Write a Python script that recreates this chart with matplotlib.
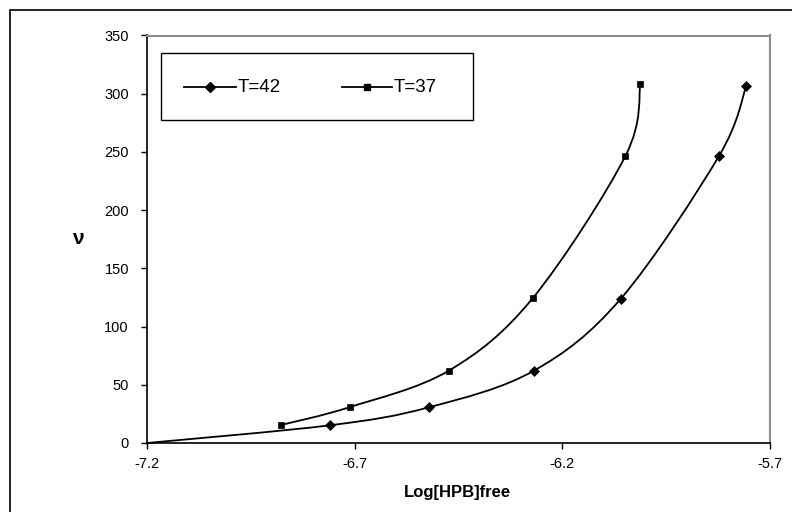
import numpy as np
import matplotlib as mpl
mpl.use('Agg')
import matplotlib.pyplot as plt
from matplotlib.path import Path
from matplotlib.patches import PathPatch, Rectangle
from matplotlib.lines import Line2D

plt.rcParams['font.family'] = ['Liberation Sans', 'DejaVu Sans']

# data
x_42 = [-7.2, -6.760, -6.521, -6.269, -6.059, -5.823, -5.757]
y_42 = [0, 15.2, 30.7, 62.0, 124.0, 246.4, 306.7]
x_37 = [-6.878, -6.712, -6.473, -6.271, -6.048, -6.012]
y_37 = [15.4, 30.8, 62.2, 124.5, 246.6, 308.0]
labels = ['T=42', 'T=37']
xticks = [-7.2, -6.7, -6.2, -5.7]
yticks = [0, 50, 100, 150, 200, 250, 300, 350]


def smooth_path(xs, ys):
    # Excel-like smoothed line: cubic bezier through every point
    p = np.column_stack([xs, ys]).astype(float)
    n = len(p)
    verts = [p[0]]
    codes = [Path.MOVETO]
    for i in range(n - 1):
        p0 = p[i - 1] if i > 0 else p[i]
        p3 = p[i + 2] if i + 2 < n else p[i + 1]
        c1 = p[i] + (p[i + 1] - p0) / 6
        c2 = p[i + 1] - (p3 - p[i]) / 6
        verts += [c1, c2, p[i + 1]]
        codes += [Path.CURVE4] * 3
    return Path(verts, codes)


W, H = 792, 512
fig = plt.figure(figsize=(W / 100, H / 100), dpi=100)
ax = fig.add_axes([147 / W, 1 - 443 / H, (770 - 147) / W, (443 - 35.5) / H])

def fx(px):
    return px / W

def fy(py):
    return 1 - py / H

# outer chart border (right and bottom edges fall outside the picture)
fig.patches.append(Rectangle((fx(10), -0.05), 1.1, fy(10) + 0.05,
                             transform=fig.transFigure, fill=False,
                             edgecolor='black', linewidth=1.2))

for xs, ys in [(x_42, y_42), (x_37, y_37)]:
    ax.add_patch(PathPatch(smooth_path(xs, ys), fill=False, edgecolor='black',
                           linewidth=1.3, clip_on=False))

ax.plot(x_42[1:], y_42[1:], linestyle='none', marker='D', markersize=5,
        color='black', markeredgewidth=0.5)
ax.plot(x_37, y_37, linestyle='none', marker='s', markersize=5,
        color='black', markeredgewidth=0.5)

ax.set_xlim(-7.2, -5.7)
ax.set_ylim(0, 350)
ax.set_xticks(xticks)
ax.set_xticklabels(['%.1f' % v for v in xticks])
ax.set_yticks(yticks)
ax.tick_params(direction='out', length=4, width=1, labelsize=10.5)
ax.tick_params(axis='y', pad=9)
ax.tick_params(axis='x', pad=6)

for s in ['top', 'right']:
    ax.spines[s].set_color('#8c8c8c')
    ax.spines[s].set_linewidth(1.5)
for s in ['left', 'bottom']:
    ax.spines[s].set_linewidth(1.2)

fig.text(fx(457), fy(493), 'Log[HPB]free', ha='center', va='center',
         fontsize=12, fontweight='bold')
fig.text(fx(78), fy(238), 'ν', ha='center', va='center',
         fontsize=15, fontweight='bold')

# legend box drawn by hand to match the original layout
fig.patches.append(Rectangle((fx(161), fy(120)), fx(473) - fx(161), fy(53) - fy(120),
                             transform=fig.transFigure, facecolor='white',
                             edgecolor='black', linewidth=1.0, zorder=5))
for lab, mk, (x0, x1) in zip(labels, ['D', 's'], [(184, 236), (342, 392)]):
    fig.lines.append(Line2D([fx(x0), fx(x1)], [fy(87), fy(87)],
                            transform=fig.transFigure, color='black',
                            linewidth=1.3, zorder=6))
    fig.lines.append(Line2D([fx((x0 + x1) / 2)], [fy(87)],
                            transform=fig.transFigure, color='black',
                            marker=mk, markersize=5, zorder=6))
    fig.text(fx(x1 + 2), fy(87), lab, ha='left', va='center',
             fontsize=13.5, zorder=7)

fig.savefig('out.png', dpi=100)
